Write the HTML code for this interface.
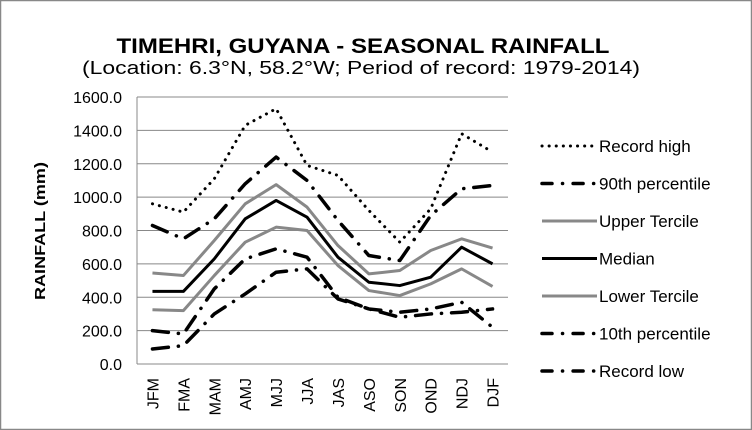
<!DOCTYPE html>
<html><head><meta charset="utf-8"><style>
html,body{margin:0;padding:0;background:#fff}
svg{display:block;font-family:"Liberation Sans",sans-serif}
</style></head><body>
<svg id="chart" width="752" height="430" viewBox="0 0 752 430" xmlns="http://www.w3.org/2000/svg">
<rect x="0.5" y="0.5" width="751" height="429" fill="#fff" stroke="#888" stroke-width="1.5"/>
<text x="363" y="53" text-anchor="middle" font-size="21" font-weight="bold" textLength="493" lengthAdjust="spacingAndGlyphs">TIMEHRI,  GUYANA - SEASONAL RAINFALL</text>
<text x="361" y="74" text-anchor="middle" font-size="18" textLength="558" lengthAdjust="spacingAndGlyphs">(Location: 6.3°N, 58.2°W; Period of record: 1979-2014)</text>
<text transform="translate(45,231) rotate(-90)" text-anchor="middle" font-size="15" font-weight="bold" textLength="138" lengthAdjust="spacingAndGlyphs">RAINFALL (mm)</text>
<g id="grid"></g><g id="series"></g><g id="legend"></g>
</svg>
<script>
const categories=["JFM","FMA","MAM","AMJ","MJJ","JJA","JAS","ASO","SON","OND","NDJ","DJF"];
const yTicks=[0,200,400,600,800,1000,1200,1400,1600];
const seriesNames=["Record high","90th percentile","Upper Tercile","Median","Lower Tercile","10th percentile","Record low"];
const recordHigh=[960,910,1110,1430,1530,1190,1130,920,730,930,1380,1270];
const p90=[830,750,870,1080,1240,1100,860,650,620,890,1050,1070];
const upperTercile=[545,530,740,960,1075,940,710,540,560,680,750,695];
const median=[435,435,630,870,980,880,640,490,470,520,700,600];
const lowerTercile=[325,320,530,730,820,800,590,440,410,480,570,465];
const p10=[200,180,450,630,690,640,400,330,280,300,310,330];
const recordLow=[90,110,300,420,550,570,390,330,310,330,370,220];

const NS="http://www.w3.org/2000/svg";
const L=137,R=508,T=97,B=364,yMax=1600;
const cw=(R-L)/categories.length;
const x=i=>L+cw*(i+0.5);
const y=v=>B-(v/yMax)*(B-T);
function mk(tag,attrs,parent){const e=document.createElementNS(NS,tag);for(const k in attrs)e.setAttribute(k,attrs[k]);parent.appendChild(e);return e;}
const grid=document.getElementById('grid');
yTicks.forEach(t=>{
  const ln=mk('line',{x1:L,x2:R,y1:y(t),y2:y(t),stroke:'#888','stroke-width':1},grid);
  
  
  const tx=mk('text',{x:L-15,y:y(t)+6,'text-anchor':'end','font-size':16},grid);
  
  
  tx.textContent=t.toFixed(1);
});
const ax=mk('line',{x1:L,x2:L,y1:T,y2:B,stroke:'#888','stroke-width':1},grid);


categories.forEach((c,i)=>{
  const tx=mk('text',{transform:`translate(${x(i)+6},378) rotate(-90)`,'text-anchor':'end','font-size':16},grid);
  
  
  tx.textContent=c;
});
const styles=[
 {d:recordHigh,c:'#000',w:3,dash:'0.1 7',cap:'round'},
 {d:p90,c:'#000',w:3.5,dash:'16 10 0.1 10',cap:'round'},
 {d:upperTercile,c:'#888',w:3,dash:'',cap:'butt'},
 {d:median,c:'#000',w:3,dash:'',cap:'butt'},
 {d:lowerTercile,c:'#888',w:3,dash:'',cap:'butt'},
 {d:p10,c:'#000',w:3.5,dash:'16 10 0.1 10',cap:'round'},
 {d:recordLow,c:'#000',w:3.5,dash:'16 10 0.1 10',cap:'round'}
];
const sg=document.getElementById('series'),lg=document.getElementById('legend');
styles.forEach((s,k)=>{
  const p=mk('polyline',{points:s.d.map((v,i)=>x(i)+','+y(v)).join(' '),fill:'none',stroke:s.c,'stroke-width':s.w,'stroke-dasharray':s.dash,'stroke-linecap':s.cap,'stroke-linejoin':'round'},sg);
  
  
  const ly=146+k*37.5;
  const g=mk('g',{},lg);
  
  
  mk('line',{x1:542,x2:597,y1:ly,y2:ly,stroke:s.c,'stroke-width':s.w,'stroke-dasharray':s.dash?(k===0?'0.1 7':'10 10.5 0.1 10.5'):'','stroke-linecap':s.cap},g);
  const t=mk('text',{x:599,y:ly+6,'font-size':17},g);
  t.textContent=seriesNames[k];
});
</script>
</body></html>
